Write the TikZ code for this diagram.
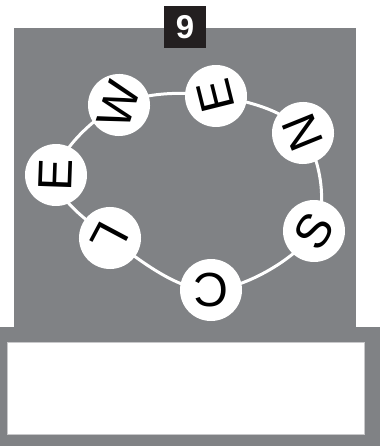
\documentclass[tikz,border=0pt]{standalone}
\usepackage{fontspec}
\setmainfont{Liberation Sans}
\definecolor{panelgray}{HTML}{808285}
\definecolor{boxblack}{HTML}{231F20}
\definecolor{edgegray}{HTML}{C8C8CA}
\begin{document}
\begin{tikzpicture}[x=1pt,y=-1pt,
  letter/.style={circle,fill=white,minimum size=62pt,inner sep=0pt,
    font=\fontsize{48}{48}\selectfont,text=black},
  ring/.style={white,line width=3pt}]
\useasboundingbox (0,0) rectangle (380,446);
% panels
\fill[panelgray] (14,28) rectangle (356,327);
\fill[panelgray] (0,327) rectangle (380,446);
\node[fill=white,draw=edgegray,line width=0.6pt,minimum width=357pt,minimum height=92pt,inner sep=0pt] (answer) at (185.5,388) {};
\node[fill=boxblack,minimum size=42pt,inner sep=0pt,text=white,font=\fontsize{33}{33}\selectfont\bfseries] (num) at (185,27) {9};
% ring positions
\coordinate (pW) at (119,105);
\coordinate (pE) at (216,96);
\coordinate (pN) at (303,133);
\coordinate (pS) at (314,231);
\coordinate (pC) at (211,290);
\coordinate (pL) at (110,238);
\coordinate (pE2) at (56,175);
\draw[ring] plot[smooth cycle,tension=0.6] coordinates {(pW) (pE) (pN) (pS) (pC) (pL) (pE2)};
% letters
\node[letter,rotate=72] (W) at (pW) {W};
\node[letter,rotate=104] (E) at (pE) {E};
\node[letter,rotate=112] (N) at (pN) {N};
\node[letter,rotate=58] (S) at (pS) {S};
\node[letter,rotate=180] (C) at (pC) {C};
\node[letter,rotate=-118] (L) at (pL) {L};
\node[letter,rotate=88] (E2) at (pE2) {E};
\end{tikzpicture}
\end{document}
